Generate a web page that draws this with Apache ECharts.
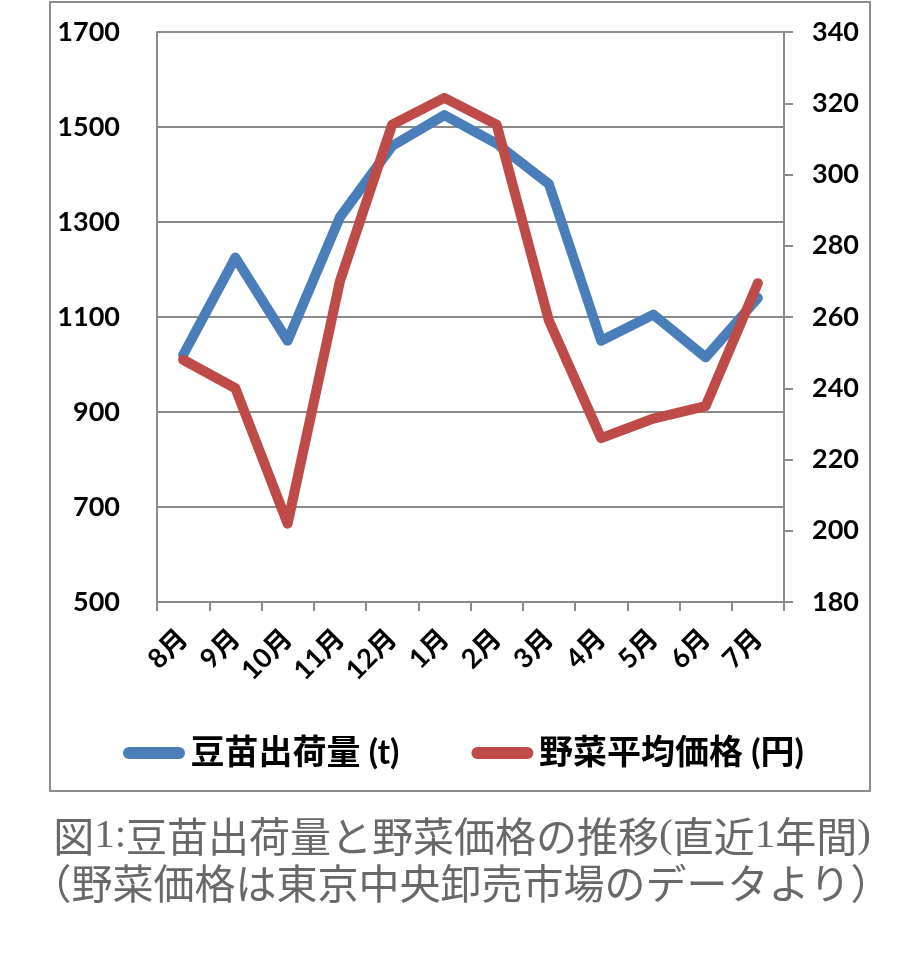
<!DOCTYPE html>
<html>
<head>
<meta charset="utf-8">
<script src="https://cdn.jsdelivr.net/npm/echarts@6/dist/echarts.min.js"></script>
<style>
  html, body { margin: 0; padding: 0; background: #ffffff; }
  #main { width: 921px; height: 953px; }
</style>
</head>
<body>
<div id="main"></div>
<script>
// ---- data ----
const months = ['8月', '9月', '10月', '11月', '12月', '1月', '2月', '3月', '4月', '5月', '6月', '7月'];
const shipments = [1020, 1225, 1050, 1310, 1460, 1525, 1465, 1380, 1050, 1105, 1015, 1140];
const vegPrice = [248, 240, 202, 270, 314, 321.5, 314, 259, 226, 231.5, 235, 269.5];
const seriesNames = ['豆苗出荷量 (t)', '野菜平均価格 (円)'];
const leftAxisRange = [500, 1700, 200];
const rightAxisRange = [180, 340, 20];

const chart = echarts.init(document.getElementById('main'));
const axisGray = '#8a8a8a';
const labelFont = 'Lato, "Noto Sans CJK JP", sans-serif';
const pillIcon = 'path://M6,0 L56,0 A6,6 0 0 1 56,12 L6,12 A6,6 0 0 1 6,0 Z';

chart.setOption({
  backgroundColor: '#ffffff',
  animation: false,
  grid: { left: 157, right: 137, top: 32, bottom: 351, containLabel: false },
  legend: {
    data: [
      { name: seriesNames[0], icon: pillIcon },
      { name: seriesNames[1], icon: pillIcon }
    ],
    left: 118,
    top: 730,
    itemWidth: 63,
    itemHeight: 12,
    itemGap: 72,
    textStyle: { fontFamily: labelFont, fontWeight: 'bold', fontSize: 34, color: '#000', lineHeight: 36 }
  },
  xAxis: {
    type: 'category',
    data: months,
    boundaryGap: true,
    axisLine: { show: true, lineStyle: { color: axisGray, width: 2 } },
    axisTick: { show: true, length: 9, lineStyle: { color: axisGray, width: 2 } },
    axisLabel: {
      interval: 0,
      rotate: 45,
      margin: 32,
      fontFamily: labelFont,
      fontWeight: 'bold',
      fontSize: 27,
      color: '#000'
    },
    splitLine: { show: false }
  },
  yAxis: [
    {
      type: 'value',
      min: leftAxisRange[0], max: leftAxisRange[1], interval: leftAxisRange[2],
      axisLine: { show: true, lineStyle: { color: axisGray, width: 2 } },
      axisTick: { show: false },
      axisLabel: { margin: 37, formatter: (v) => String(v), fontFamily: labelFont, fontWeight: 'bold', fontSize: 27, color: '#000' },
      splitLine: { show: true, lineStyle: { color: axisGray, width: 2 } }
    },
    {
      type: 'value',
      position: 'right',
      min: rightAxisRange[0], max: rightAxisRange[1], interval: rightAxisRange[2],
      axisLine: { show: true, lineStyle: { color: axisGray, width: 2 } },
      axisTick: { show: true, length: 9, lineStyle: { color: axisGray, width: 2 } },
      axisLabel: { margin: 28, formatter: (v) => String(v), fontFamily: labelFont, fontWeight: 'bold', fontSize: 27, color: '#000' },
      splitLine: { show: false }
    }
  ],
  series: [
    {
      name: seriesNames[0],
      type: 'line',
      yAxisIndex: 0,
      data: shipments,
      symbol: 'none',
      color: '#4a7ebb',
      lineStyle: { width: 10, color: '#4a7ebb', cap: 'round', join: 'round' },
      z: 2
    },
    {
      name: seriesNames[1],
      type: 'line',
      yAxisIndex: 1,
      data: vegPrice,
      symbol: 'none',
      color: '#be4b48',
      lineStyle: { width: 10, color: '#be4b48', cap: 'round', join: 'round' },
      z: 3
    }
  ],
  graphic: [
    {
      type: 'rect',
      shape: { x: 50, y: 2, width: 820, height: 789 },
      style: { fill: 'none', stroke: '#8c8c8c', lineWidth: 2 },
      silent: true
    },
    {
      type: 'text',
      x: 462, y: 836,
      style: {
        text: '{c|図}{s|1:}{c|豆苗出荷量と野菜価格の推移}{s|(}{c|直近}{s|1}{c|年間}{s|)}',
        align: 'center', verticalAlign: 'middle',
        rich: {
          c: { fontFamily: '"Noto Sans CJK JP", sans-serif', fontSize: 41, fill: '#686868' },
          s: { fontFamily: '"Liberation Serif", serif', fontSize: 41, fill: '#686868' }
        }
      }
    },
    {
      type: 'text',
      x: 461, y: 883,
      style: {
        text: '（野菜価格は東京中央卸売市場のデータより）',
        align: 'center', verticalAlign: 'middle',
        fontFamily: '"Noto Sans CJK JP", sans-serif', fontSize: 41, fill: '#686868'
      }
    }
  ]
});
</script>
</body>
</html>
